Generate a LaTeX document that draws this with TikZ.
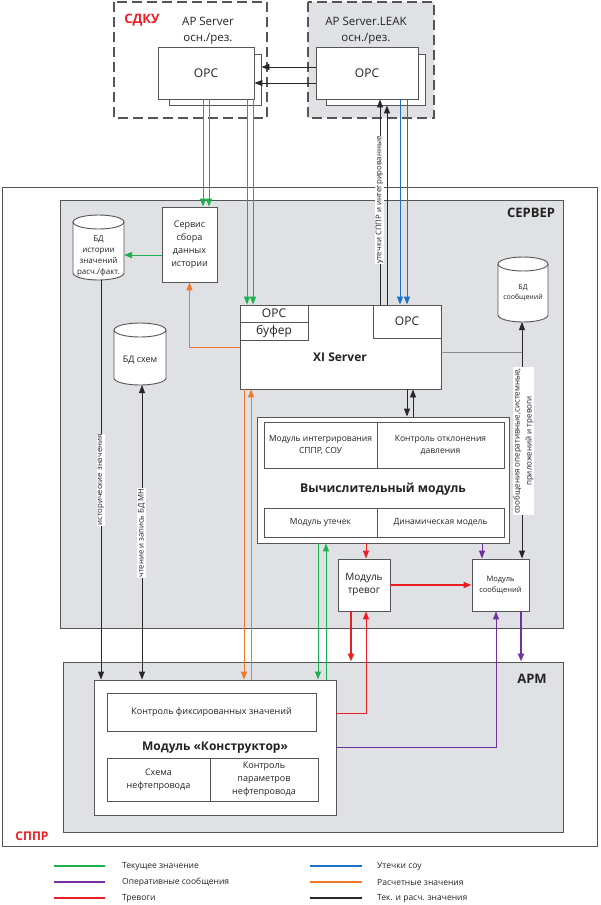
\documentclass[tikz,border=0pt]{standalone}
\usepackage{fontspec}
\setmainfont{Open Sans}
\usetikzlibrary{arrows.meta}

\definecolor{panel}{RGB}{224,225,228}
\definecolor{edge}{RGB}{85,85,85}
\definecolor{txt}{RGB}{35,35,35}
\definecolor{lgreen}{RGB}{30,176,80}
\definecolor{lorange}{RGB}{240,120,40}
\definecolor{lred}{RGB}{236,30,36}
\definecolor{lpurple}{RGB}{112,48,160}
\definecolor{lblue}{RGB}{30,112,200}
\definecolor{lblack}{RGB}{40,40,40}
\definecolor{lgray}{RGB}{140,140,140}

\newcommand{\fsz}[2]{\fontsize{#1}{#2}\selectfont}
% цилиндр БД по имени узла: #1 узел, #2 x radius, #3 y radius
\newcommand{\dbshape}[3]{%
  \filldraw[draw=edge, fill=white, line width=0.9pt]
    ([yshift=-#3]#1.north west) -- ([yshift=#3]#1.south west)
    arc[start angle=180, end angle=360, x radius=#2, y radius=#3]
    -- ([yshift=-#3]#1.north east)
    arc[start angle=0, end angle=180, x radius=#2, y radius=#3] -- cycle;
  \draw[draw=edge, line width=0.9pt] ([yshift=-#3]#1.north west)
    arc[start angle=180, end angle=360, x radius=#2, y radius=#3];}

\tikzset{
  box/.style={draw=edge, fill=white, line width=0.9pt, inner sep=1pt, align=center},
  dbase/.style={inner sep=0pt, outer sep=0pt},
  frame/.style={draw=edge, line width=1pt},
  dashframe/.style={draw=edge, line width=1.1pt, dash pattern=on 10pt off 5pt},
  tag/.style={fill=white, rotate=90, inner sep=0.8pt, align=center, font=\fsz{7.8}{9}},
  legend/.style={anchor=west, inner sep=0pt, font=\fsz{8.5}{10}},
  kline/.style={draw=lblack, line width=0.9pt},
  gline/.style={draw=lgreen, line width=1pt},
  bline/.style={draw=lblue, line width=1pt},
  oline/.style={draw=lorange, line width=1pt},
  rline/.style={draw=lred, line width=1pt},
  pline/.style={draw=lpurple, line width=1pt},
}

\begin{document}
\begin{tikzpicture}[x=1pt, y=-1pt, >={Triangle[length=8pt,width=6pt]}, font=\fsz{9}{11}, every node/.append style={text=txt}]
\fill[white] (0,0) rectangle (600,905);
\useasboundingbox (0,0) rectangle (600,905);

% СДКУ
\draw[dashframe] (114,2) rectangle (267,118);
\draw[dashframe, fill=panel] (308,2) rectangle (434,118);
\node[font=\bfseries\fsz{13}{15}, text=lred] (sdku) at (142,20) {СДКУ};
\node[align=center, font=\fsz{11.5}{16}] (apsrv) at (208,31) {AP Server\\осн./рез.};
\node[align=center, font=\fsz{11.5}{16}] (apleak) at (366,31) {AP Server.LEAK\\осн./рез.};

\node[box, minimum width=92pt, minimum height=51pt] (opcLb) at (215,79.5) {};
\node[box, minimum width=96pt, minimum height=52pt, font=\fsz{12}{14}] (opcL) at (206,73) {OPC};
\node[box, minimum width=99pt, minimum height=51pt] (opcRb) at (375.5,79.5) {};
\node[box, minimum width=102pt, minimum height=52pt, font=\fsz{12}{14}] (opcR) at (367,73) {OPC};

% СППР
\node[frame, minimum width=595pt, minimum height=659pt] (sppr) at (299.5,516.5) {};
\node[font=\bfseries\fsz{12}{14}, text=lred] (spprlbl) at (32,836) {СППР};
\node[frame, fill=panel, minimum width=503pt, minimum height=428pt] (srv) at (311.5,414) {};
\node[font=\bfseries\fsz{13}{15}] (srvlbl) at (531,213) {СЕРВЕР};
\node[frame, fill=panel, minimum width=500pt, minimum height=170pt] (arm) at (313,747) {};
\node[font=\bfseries\fsz{13}{15}] (armlbl) at (532,679) {АРМ};

% сервер
\node[dbase, minimum width=51pt, minimum height=65pt] (dbHist) at (98.5,247.5) {};
\dbshape{dbHist}{25.5pt}{7pt}
\node[align=center, font=\fsz{8}{11}] (dbHistTxt) at (98.5,256) {БД\\истории\\значений\\расч./факт.};
\node[box, minimum width=55pt, minimum height=75pt, font=\fsz{9}{13}] (svc) at (189.5,244.5) {Сервис\\сбора\\данных\\истории};
\node[dbase, minimum width=52pt, minimum height=62pt] (dbSchem) at (140,354) {};
\dbshape{dbSchem}{26pt}{7pt}
\node[font=\fsz{9}{11}] (dbSchemTxt) at (140,360) {БД схем};
\node[dbase, minimum width=50pt, minimum height=65pt] (dbMsg) at (523,289.5) {};
\dbshape{dbMsg}{25pt}{7pt}
\node[align=center, font=\fsz{7}{10}] (dbMsgTxt) at (523,293) {БД\\сообщений};

\node[box, minimum width=201pt, minimum height=84pt] (xi) at (340.5,347) {};
\node[box, minimum width=68pt, minimum height=17pt, font=\fsz{12}{14}] (xiopc) at (274,313.5) {OPC};
\node[box, minimum width=68pt, minimum height=18pt, font=\fsz{12}{14}] (xibuf) at (274,331) {буфер};
\node[box, minimum width=68pt, minimum height=33pt, font=\fsz{12}{14}] (xiopc2) at (407,321.5) {OPC};
\node[font=\bfseries\fsz{12}{14}] (xilbl) at (340,357) {XI Server};

\node[box, minimum width=252pt, minimum height=126pt] (calc) at (383,480) {};
\node[box, minimum width=113pt, minimum height=46pt, font=\fsz{8.5}{12}] (integ) at (320.5,445) {Модуль интегрирования\\СППР, СОУ};
\node[box, minimum width=127pt, minimum height=46pt, font=\fsz{8.5}{12}] (dev) at (440.5,445) {Контроль отклонения\\давления};
\node[box, minimum width=113pt, minimum height=29pt, font=\fsz{8.5}{12}] (leak) at (320.5,522.5) {Модуль утечек};
\node[box, minimum width=127pt, minimum height=29pt, font=\fsz{8.5}{12}] (dyn) at (440.5,522.5) {Динамическая модель};
\node[font=\bfseries\fsz{12.2}{15}] (calclbl) at (383,489) {Вычислительный модуль};

\node[box, minimum width=52pt, minimum height=52pt, font=\fsz{10}{13}] (alarm) at (364,585) {Модуль\\тревог};
\node[box, minimum width=57pt, minimum height=52pt, font=\fsz{7.5}{11}] (msg) at (500.5,585) {Модуль\\сообщений};

% АРМ
\node[box, minimum width=242pt, minimum height=135pt] (konstr) at (215,747.5) {};
\node[box, minimum width=209pt, minimum height=38pt] (fix) at (211.5,712) {Контроль фиксированных значений};
\node[box, minimum width=103pt, minimum height=43pt, font=\fsz{9}{13}] (scheme) at (158.5,779.5) {Схема\\нефтепровода};
\node[box, minimum width=108pt, minimum height=43pt, font=\fsz{9}{13}] (ctrl) at (264,779.5) {Контроль\\параметров\\нефтепровода};
\node[font=\bfseries\fsz{12}{14}] (konstrlbl) at (215,748) {Модуль «Конструктор»};

% колонки связей
\coordinate (cg1) at (203,0);
\coordinate (cg2) at (209,0);
\coordinate (cg3) at (247,0);
\coordinate (cg4) at (253,0);
\coordinate (cg5) at (318,0);
\coordinate (cg6) at (326,0);
\coordinate (cb1) at (400,0);
\coordinate (cb2) at (407,0);
\coordinate (ck1) at (380,0);
\coordinate (ck2) at (387,0);
\coordinate (ck3) at (407,0);
\coordinate (ck4) at (413,0);
\coordinate (ch) at (101,0);
\coordinate (cs) at (142,0);
\coordinate (co1) at (244,0);
\coordinate (co2) at (251,0);
\coordinate (cr1) at (366,0);
\coordinate (cr2) at (351,0);
\coordinate (cp1) at (482,0);
\coordinate (cp2) at (496,0);
\coordinate (cp3) at (521,0);
\coordinate (cm) at (522,0);
\coordinate (ra1) at (0,67);
\coordinate (ra2) at (0,83);
\coordinate (rg) at (0,255);
\coordinate (rx) at (0,352);
\coordinate (rr) at (0,713);
\coordinate (rp) at (0,747);

% СДКУ <-> сервер
\draw[kline,->] (opcR.west |- ra1) -- (opcLb.east |- ra1);
\draw[kline,->] (opcR.west |- ra2) -- (opcL.east |- ra2);
\draw[gline,->] (cg1 |- opcL.south) -- (cg1 |- svc.north);
\draw[gline,->] (cg2 |- opcL.south) -- (cg2 |- svc.north);
\draw[gline,->] (cg3 |- opcL.south) -- (cg3 |- xi.north);
\draw[gline,->] (cg4 |- opcL.south) -- (cg4 |- xi.north);
\draw[bline,->] (cb1 |- opcR.south) -- (cb1 |- xi.north);
\draw[bline,->] (cb2 |- opcR.south) -- (cb2 |- xi.north);
\draw[kline,->] (ck1 |- xi.north) -- (ck1 |- opcR.south);
\draw[kline,->] (ck2 |- xi.north) -- (ck2 |- opcRb.south);
\node[tag] (tleak) at (379.5,200) {утечки СППР и интегрированные};

% внутри сервера
\draw[gline,->] (svc.west |- rg) -- (dbHist.east |- rg);
\draw[oline,->] (xi.west) -| (svc.south);
\draw[draw=lgray, line width=0.9pt] (xi.east |- rx) -- (cm |- rx);
\draw[kline,<->] (cm |- dbMsg.south) -- (cm |- msg.north);
\node[tag, font=\fsz{8}{12}] (tmsg) at (523.5,441) {сообщения оперативные,системные,\\приложений и тревоги};
\draw[kline,->] (ck3 |- xi.south) -- (ck3 |- calc.north);
\draw[kline,->] (ck4 |- calc.north) -- (ck4 |- xi.south);
\draw[rline,->] (cr1 |- calc.south) -- (cr1 |- alarm.north);
\draw[pline,->] (cp1 |- calc.south) -- (cp1 |- msg.north);
\draw[rline, line width=1.8pt,->] (alarm.east) -- (msg.west);

% сервер <-> АРМ
\draw[kline,->] (ch |- dbHist.south) -- (ch |- konstr.north);
\node[tag] (thist) at (101,480) {исторические значения};
\draw[kline,<->] (cs |- dbSchem.south) -- (cs |- konstr.north);
\node[tag] (tschem) at (141.5,533) {чтение и запись БД МН};
\draw[oline,->] (co1 |- xi.south) -- (co1 |- konstr.north);
\draw[oline,->] (co2 |- konstr.north) -- (co2 |- xi.south);
\draw[gline,->] (cg5 |- calc.south) -- (cg5 |- konstr.north);
\draw[gline,->] (cg6 |- konstr.north) -- (cg6 |- calc.south);
\draw[rline, line width=1.8pt,->] (cr2 |- alarm.south) -- (cr2 |- arm.north);
\draw[rline,->] (konstr.east |- rr) -| (cr1 |- alarm.south);
\draw[pline,->] (konstr.east |- rp) -| (cp2 |- msg.south);
\draw[pline, line width=1.8pt,->] (cp3 |- msg.south) -- (cp3 |- arm.north);

% легенда
\draw[gline, line width=1.2pt] (54,866) -- (105,866);
\node[legend] (lg1) at (122,866) {Текущее значение};
\draw[pline, line width=1.2pt] (54,882) -- (105,882);
\node[legend] (lg2) at (122,882) {Оперативные сообщения};
\draw[rline, line width=1.2pt] (54,898) -- (105,898);
\node[legend] (lg3) at (122,898) {Тревоги};
\draw[bline, line width=1.2pt] (310,866) -- (362,866);
\node[legend] (lg4) at (377,866) {Утечки соу};
\draw[oline, line width=1.2pt] (310,882) -- (362,882);
\node[legend] (lg5) at (377,882) {Расчетные значения};
\draw[kline, line width=1.2pt] (310,898) -- (362,898);
\node[legend] (lg6) at (377,898) {Тек. и расч. значения};
\end{tikzpicture}
\end{document}
